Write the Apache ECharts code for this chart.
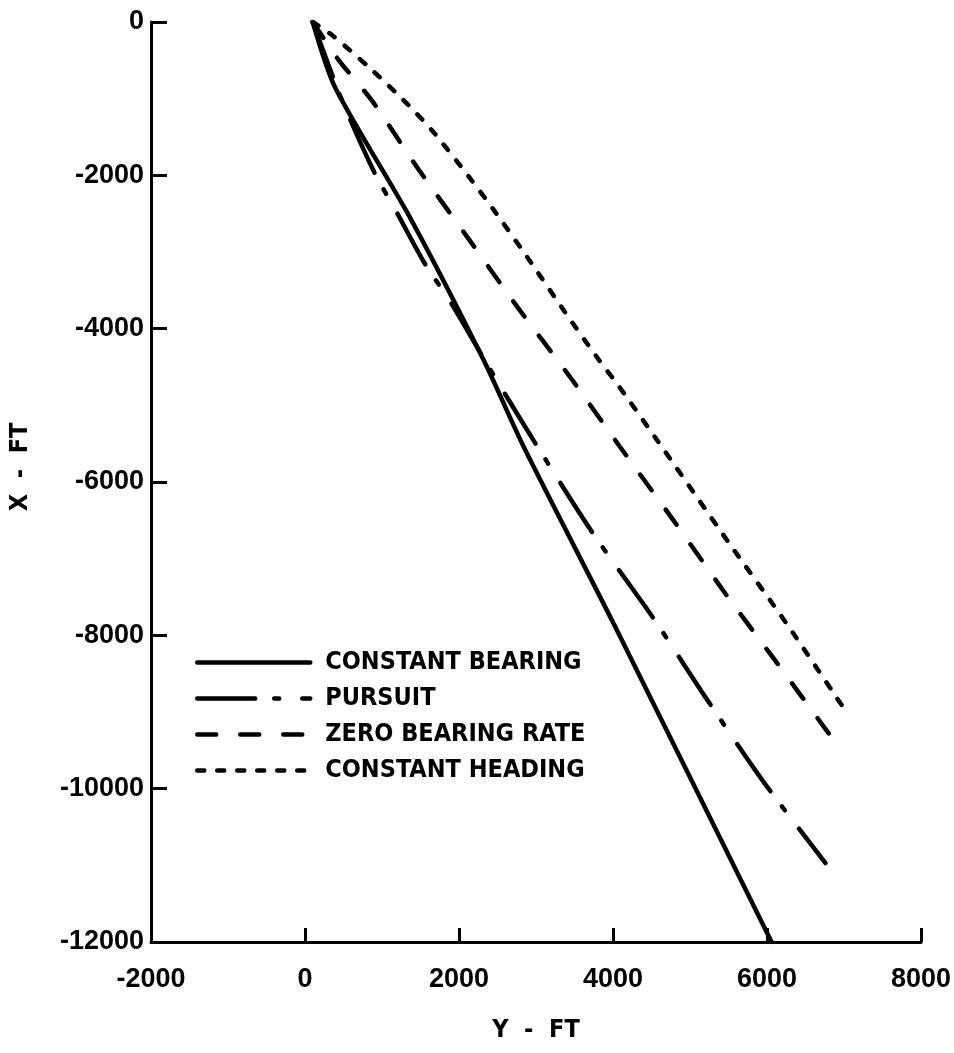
<!DOCTYPE html>
<html>
<head>
<meta charset="utf-8">
<script src="https://cdn.jsdelivr.net/npm/echarts@6/dist/echarts.min.js"></script>
<style>
html,body{margin:0;padding:0;background:#fff;}
#chart{width:954px;height:1053px;}
</style>
</head>
<body>
<div id="chart"></div>
<script>
// Data: [Y ft, X ft]
const seriesNames = ['CONSTANT BEARING', 'PURSUIT', 'ZERO BEARING RATE', 'CONSTANT HEADING'];
const constantBearing = [[100,0],[390,-850],[1380,-2580],[2320,-4410],[2840,-5540],[4050,-7930],[6060,-12000]];
const pursuit = [[100,0],[480,-1020],[900,-1960],[1190,-2480],[1550,-3140],[1900,-3670],[2410,-4540],[3020,-5540],[3740,-6670],[4520,-7770],[5210,-8820],[5940,-9890],[6760,-10970]];
const zeroBearingRate = [[100,0],[440,-500],[865,-1020],[1480,-1930],[2090,-2780],[2760,-3720],[3450,-4640],[4090,-5540],[4800,-6520],[5470,-7470],[6130,-8360],[6890,-9400]];
const constantHeading = [[100,0],[350,-170],[830,-590],[1340,-1080],[1680,-1450],[2160,-2060],[2450,-2450],[2930,-3130],[3360,-3760],[3790,-4370],[4090,-4770],[4570,-5450],[5510,-6800],[6250,-7840],[6970,-8910]];
const xTicks = [-2000, 0, 2000, 4000, 6000, 8000];
const yTicks = [-12000, -10000, -8000, -6000, -4000, -2000, 0];
const xAxisTitle = 'Y  -  FT';
const yAxisTitle = 'X  -  FT';

const labelFont = { color: '#000', fontFamily: 'Liberation Sans', fontWeight: 'bold', fontSize: 27 };
const condFont = "'DejaVu Sans Condensed', 'Liberation Sans', sans-serif";
const chart = echarts.init(document.getElementById('chart'), null, { renderer: 'canvas' });

function mk(name, data, type) {
  return {
    name, type: 'line', data, showSymbol: false, symbol: 'none', symbolSize: 0, smooth: 0.25,
    lineStyle: { color: '#000', width: 4.5, type, cap: 'round' },
    itemStyle: { color: '#000' }, animation: false
  };
}

chart.setOption({
  backgroundColor: '#fff',
  animation: false,
  grid: { left: 148, right: 31, top: 22, bottom: 111 },
  xAxis: {
    type: 'value', min: xTicks[0], max: xTicks[xTicks.length - 1], interval: 2000,
    name: xAxisTitle, nameLocation: 'middle', nameGap: 76,
    nameTextStyle: { color: '#000', fontFamily: condFont, fontWeight: 'bold', fontSize: 25 },
    axisLine: { onZero: false, lineStyle: { color: '#000', width: 3 } },
    axisTick: { inside: true, length: 14, lineStyle: { color: '#000', width: 3 } },
    axisLabel: Object.assign({ margin: 24, formatter: v => String(v) }, labelFont),
    splitLine: { show: false }
  },
  yAxis: {
    type: 'value', min: yTicks[0], max: yTicks[yTicks.length - 1], interval: 2000,
    name: yAxisTitle, nameLocation: 'middle', nameGap: 118, nameRotate: 90,
    nameTextStyle: { color: '#000', fontFamily: condFont, fontWeight: 'bold', fontSize: 25, padding: [0, 0, 0, 30] },
    axisLine: { onZero: false, lineStyle: { color: '#000', width: 3 } },
    axisTick: { inside: true, length: 16, lineStyle: { color: '#000', width: 3 } },
    axisLabel: Object.assign({ margin: 7, formatter: v => String(v) }, labelFont),
    splitLine: { show: false }
  },
  legend: {
    orient: 'vertical', left: 190, top: 645,
    itemWidth: 113, itemHeight: 20, itemGap: 11,
    itemStyle: { opacity: 0 },
    lineStyle: { width: 4.5, cap: 'round' },
    textStyle: { color: '#000', fontFamily: condFont, fontWeight: 'bold', fontSize: 25, padding: [0, 0, 0, 10] },
    data: seriesNames
  },
  series: [
    mk(seriesNames[0], constantBearing, 'solid'),
    mk(seriesNames[1], pursuit, [58, 19, 5, 23]),
    mk(seriesNames[2], zeroBearingRate, [19, 24]),
    mk(seriesNames[3], constantHeading, [7, 13])
  ]
});
</script>
</body>
</html>
